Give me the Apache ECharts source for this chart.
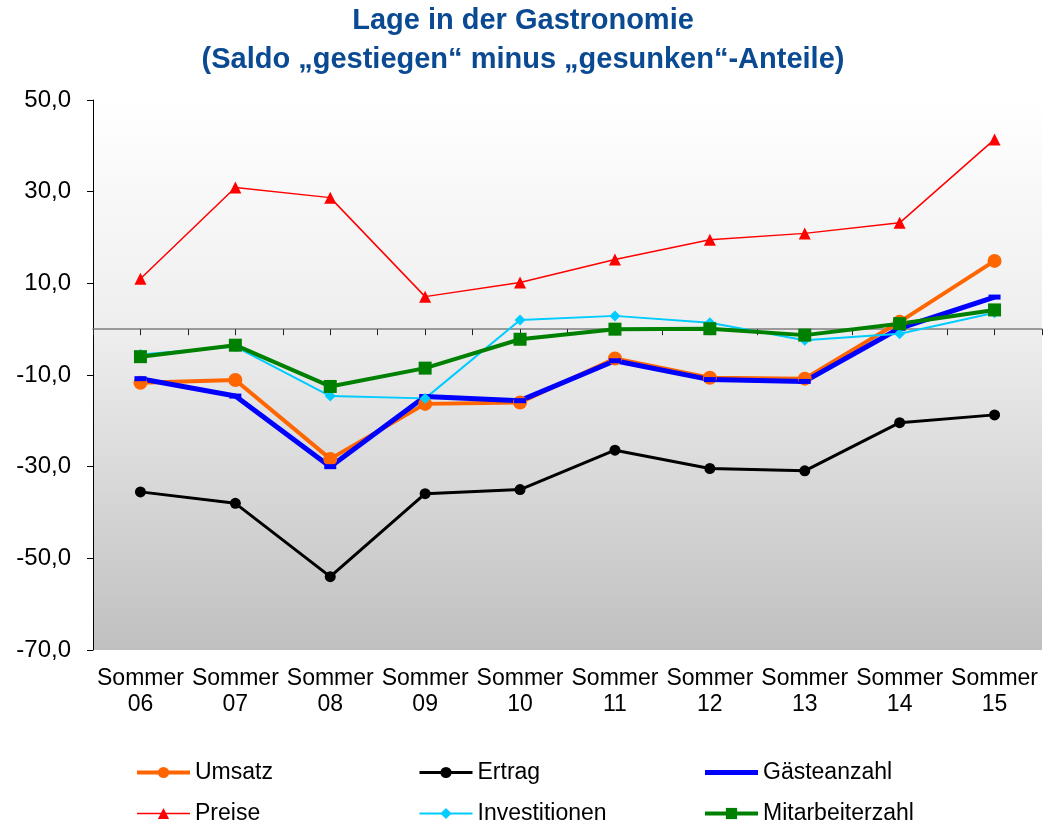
<!DOCTYPE html>
<html>
<head>
<meta charset="utf-8">
<script src="https://cdn.jsdelivr.net/npm/echarts@6/dist/echarts.min.js"></script>
<style>html,body{margin:0;padding:0;background:#fff;}#c{width:1046px;height:828px;}</style>
</head>
<body>
<div id="c"></div>
<script>
const categories = ['Sommer\n06','Sommer\n07','Sommer\n08','Sommer\n09','Sommer\n10','Sommer\n11','Sommer\n12','Sommer\n13','Sommer\n14','Sommer\n15'];
const umsatz          = [-11.7, -11.1, -28.3, -16.3, -16.0, -6.4, -10.6, -10.8, 1.6, 14.9];
const ertrag          = [-35.5, -38.0, -54.0, -35.9, -35.0, -26.4, -30.4, -30.9, -20.4, -18.7];
const gaesteanzahl    = [-10.8, -14.6, -30.0, -14.7, -15.6, -6.9, -11.0, -11.4, 0.2, 7.0];
const preise          = [11.0, 30.9, 28.7, 7.1, 10.2, 15.2, 19.5, 20.9, 23.2, 41.4];
const investitionen   = [-5.5, -3.8, -14.6, -15.1, 2.0, 2.9, 1.4, -2.4, -1.0, 3.6];
const mitarbeiterzahl = [-6.0, -3.5, -12.5, -8.5, -2.2, 0.0, 0.1, -1.3, 1.2, 4.2];
const yTicks = { min: -70, max: 50, interval: 20 };

const chart = echarts.init(document.getElementById('c'));
const FONT = 'Liberation Sans, Arial, sans-serif';
const tickSlots = [];
for (let i = 0; i < categories.length * 2; i++) tickSlots.push('');

const lineW = { 'Umsatz': 4, 'Ertrag': 3, 'Gästeanzahl': 5, 'Preise': 1.5, 'Investitionen': 2, 'Mitarbeiterzahl': 4 };

function legendItem(name) {
  const item = { name: name, lineStyle: { width: lineW[name] } };
  if (name === 'Gästeanzahl') item.icon = 'path://M0,0H53V5H0Z';
  return item;
}
function legend(left, names) {
  return {
    orient: 'vertical', left: left, top: 761, padding: 0,
    itemWidth: 53, itemHeight: 14, itemGap: 18,
    textStyle: { fontFamily: FONT, fontSize: 23, color: '#000', lineHeight: 22 },
    data: names.map(legendItem)
  };
}

chart.setOption({
  animation: false,
  title: {
    text: 'Lage in der Gastronomie\n(Saldo „gestiegen“ minus „gesunken“-Anteile)',
    left: 'center', top: -4,
    textStyle: { fontFamily: FONT, fontSize: 29, fontWeight: 'bold', color: '#0A4A92', lineHeight: 39 }
  },
  legend: [
    legend(135, ['Umsatz', 'Preise']),
    legend(418, ['Ertrag', 'Investitionen']),
    legend(703, ['Gästeanzahl', 'Mitarbeiterzahl'])
  ],
  grid: {
    left: 93, right: 4, top: 100, bottom: 178, show: true, borderWidth: 0,
    backgroundColor: new echarts.graphic.LinearGradient(0, 0, 0, 1, [
      { offset: 0, color: '#FFFFFF' },
      { offset: 0.42, color: '#EEEEEE' },
      { offset: 1, color: '#C0C0C0' }
    ])
  },
  xAxis: [
    {
      type: 'category', data: categories, position: 'bottom',
      axisLine: { show: false, onZero: false }, axisTick: { show: false },
      axisLabel: { fontFamily: FONT, fontSize: 23, color: '#000', lineHeight: 26, margin: 16, interval: 0 },
      splitLine: { show: false }
    },
    {
      type: 'category', data: tickSlots, position: 'top', boundaryGap: true,
      axisLine: { show: true, onZero: true, lineStyle: { color: '#7F7F7F', width: 1.5 } },
      axisTick: { show: true, inside: true, length: 6, interval: 0, lineStyle: { color: '#222', width: 1 } },
      axisLabel: { show: false }, splitLine: { show: false }
    }
  ],
  yAxis: {
    type: 'value', min: yTicks.min, max: yTicks.max, interval: yTicks.interval,
    axisLine: { show: true, lineStyle: { color: '#000', width: 1 } },
    axisTick: { show: true, length: 6, lineStyle: { color: '#000' } },
    splitLine: { show: false },
    axisLabel: {
      fontFamily: FONT, fontSize: 24, color: '#000', margin: 22,
      formatter: v => v.toFixed(1).replace('.', ',')
    }
  },
  series: [
    { name: 'Umsatz', type: 'line', data: umsatz, symbol: 'circle', symbolSize: 14,
      lineStyle: { color: '#FF6600', width: lineW['Umsatz'] }, itemStyle: { color: '#FF6600' } },
    { name: 'Ertrag', type: 'line', data: ertrag, symbol: 'circle', symbolSize: 11,
      lineStyle: { color: '#000000', width: lineW['Ertrag'] }, itemStyle: { color: '#000000' } },
    { name: 'Gästeanzahl', type: 'line', data: gaesteanzahl, symbol: 'rect', symbolSize: [12, 5],
      lineStyle: { color: '#0000FF', width: lineW['Gästeanzahl'] }, itemStyle: { color: '#0000FF' } },
    { name: 'Preise', type: 'line', data: preise, symbol: 'triangle', symbolSize: 12,
      lineStyle: { color: '#FF0000', width: lineW['Preise'] }, itemStyle: { color: '#FF0000' } },
    { name: 'Investitionen', type: 'line', data: investitionen, symbol: 'diamond', symbolSize: 11,
      lineStyle: { color: '#00CCFF', width: lineW['Investitionen'] }, itemStyle: { color: '#00CCFF' } },
    { name: 'Mitarbeiterzahl', type: 'line', data: mitarbeiterzahl, symbol: 'rect', symbolSize: 13,
      lineStyle: { color: '#008000', width: lineW['Mitarbeiterzahl'] }, itemStyle: { color: '#008000' } }
  ]
});
</script>
</body>
</html>
